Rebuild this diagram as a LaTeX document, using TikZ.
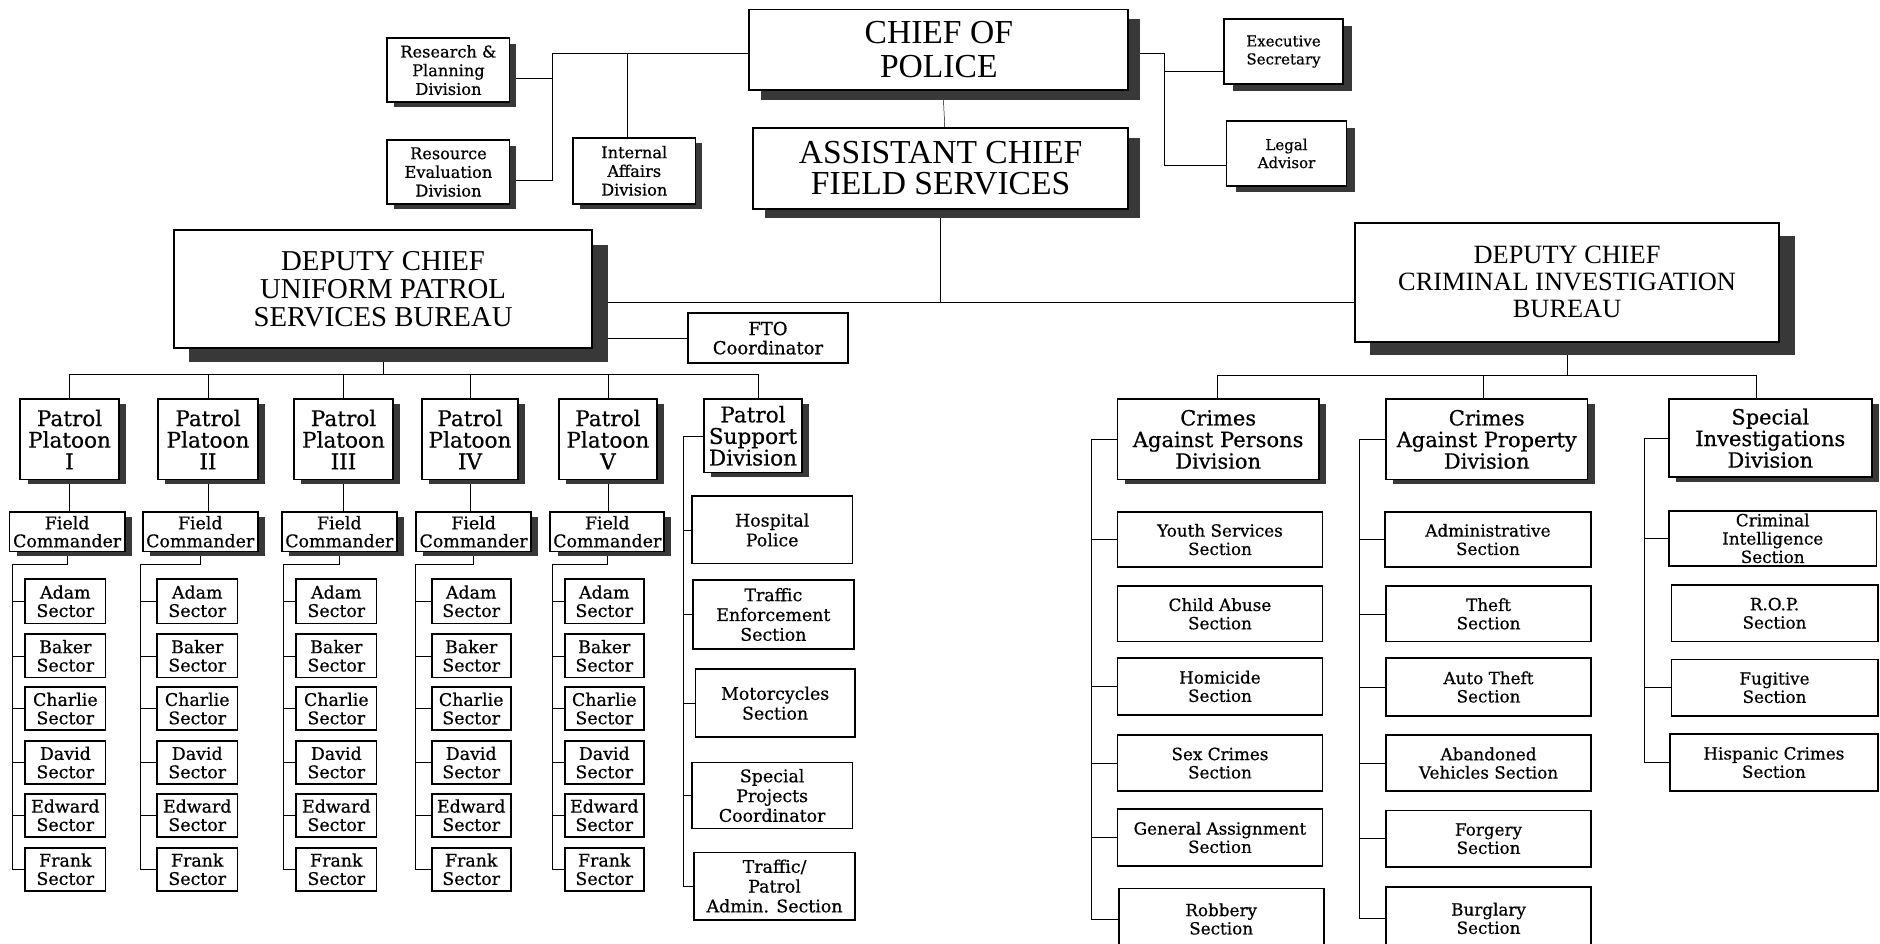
\documentclass[tikz,border=0pt]{standalone}
\usepackage{fontspec}
\setmainfont{Liberation Serif}
\newfontfamily\dvs[FakeBold=0.6]{DejaVu Serif}
\usetikzlibrary{shadows,backgrounds,calc}
\newcommand{\obox}[7]{%
  \node[bx,#6,minimum width={(#4-#2)*1pt},minimum height={(#5-#3)*1pt}] (#1) at ({(#2+#4)/2},{(#3+#5)/2}) {#7};}
\tikzset{
  bx/.style={draw,line width=1.5pt,fill=white,align=center,inner sep=0pt,outer sep=0pt},
  shd/.style 2 args={drop shadow={shadow xshift=#1pt,shadow yshift=-#2pt,fill=black!78,opacity=1}},
  conn/.style={line width=1.3pt},
  fchief/.style={font=\fontsize{28}{28}\selectfont},
  fasst/.style={font=\fontsize{28}{26}\selectfont},
  fdcu/.style={font=\fontsize{24}{23.5}\selectfont},
  fdcc/.style={font=\fontsize{22}{22.5}\selectfont},
  ftop/.style={font=\dvs\fontsize{13.5}{15.6}\selectfont},
  fexec/.style={font=\dvs\fontsize{12.5}{15}\selectfont},
  ffto/.style={font=\dvs\fontsize{15}{16}\selectfont},
  fplt/.style={font=\dvs\fontsize{18}{18}\selectfont},
  ffc/.style={font=\dvs\fontsize{14.5}{15}\selectfont},
  fsec/.style={font=\dvs\fontsize{14.5}{15.3}\selectfont},
  fsup/.style={font=\dvs\fontsize{14.5}{16.5}\selectfont},
  fdiv/.style={font=\dvs\fontsize{17.5}{18}\selectfont},
  fsect/.style={font=\dvs\fontsize{14}{15.3}\selectfont},
}
\begin{document}
\begin{tikzpicture}[x=1pt,y=-1pt]
\useasboundingbox (0,0) rectangle (1568,787);
\clip (0,0) rectangle (1568,787);
\begin{scope}[on background layer]
\fill[white] (0,0) rectangle (1568,787);
\end{scope}

% ---------- top ----------
\obox{rp}{323}{32}{425}{85}{shd={5.5}{4.5},ftop}{Research \&\\Planning\\Division}
\obox{re}{323}{117}{425}{170}{shd={5.5}{4.5},ftop}{Resource\\Evaluation\\Division}
\obox{ia}{478}{115}{580}{170}{shd={5.5}{4.5},ftop}{Internal\\Affairs\\Division}
\obox{chief}{625}{8}{941}{75}{shd={10}{8},fchief}{CHIEF OF\\POLICE}
\obox{asst}{628}{107}{941}{174}{shd={10}{8},fasst}{ASSISTANT CHIEF\\FIELD SERVICES}
\obox{exec}{1021}{16}{1120}{70}{shd={7.5}{5.5},fexec}{Executive\\Secretary}
\obox{legal}{1023}{101}{1123}{155}{shd={7.5}{5.5},fexec}{Legal\\Advisor}

% ---------- bureaus ----------
\obox{dcu}{145}{192}{494}{290}{shd={13}{12},fdcu}{DEPUTY CHIEF\\UNIFORM PATROL\\SERVICES BUREAU}
\obox{dcc}{1130}{186}{1484}{285}{shd={13}{11},fdcc}{DEPUTY CHIEF\\CRIMINAL INVESTIGATION\\BUREAU}
\obox{fto}{574}{261}{707}{303}{ffto}{FTO\\Coordinator}

% ---------- platoons ----------
\obox{p1}{17}{333}{99}{400}{shd={6}{4},fplt}{Patrol\\Platoon\\I}
\obox{p2}{132}{333}{215}{400}{shd={6}{4},fplt}{Patrol\\Platoon\\II}
\obox{p3}{245}{333}{328}{400}{shd={6}{4},fplt}{Patrol\\Platoon\\III}
\obox{p4}{352}{333}{432}{400}{shd={6}{4},fplt}{Patrol\\Platoon\\IV}
\obox{p5}{466}{333}{548}{400}{shd={6}{4},fplt}{Patrol\\Platoon\\V}
\obox{ps}{587}{333}{669}{394}{shd={6}{4},fplt}{Patrol\\Support\\Division}

\obox{fc1}{8}{427}{104}{460}{shd={6}{4},ffc}{Field\\Commander}
\obox{fc2}{119}{427}{215}{460}{shd={6}{4},ffc}{Field\\Commander}
\obox{fc3}{235}{427}{331}{460}{shd={6}{4},ffc}{Field\\Commander}
\obox{fc4}{347}{427}{443}{460}{shd={6}{4},ffc}{Field\\Commander}
\obox{fc5}{459}{427}{554}{460}{shd={6}{4},ffc}{Field\\Commander}

\foreach \c/\xa/\xb/\tx in {1/21/88/10, 2/131/198/117, 3/247/314/236, 4/360/426/346, 5/471/537/461} {
  \foreach \n/\ya/\yb/\lab in {1/483/520/Adam, 2/529/565/Baker, 3/573/609/Charlie, 4/618/654/David, 5/662/698/Edward, 6/707/743/Frank} {
    \obox{s\c\n}{\xa}{\ya}{\xb}{\yb}{fsec}{\lab\\Sector}
  }
  \coordinate (t\c) at (\tx,471);
}

% support
\obox{hp}{577}{414}{711}{470}{fsup}{Hospital\\Police}
\obox{te}{578}{484}{712}{541}{fsup}{Traffic\\Enforcement\\Section}
\obox{mc}{580}{558}{713}{615}{fsup}{Motorcycles\\Section}
\obox{sp}{577}{636}{711}{691}{fsup}{Special\\Projects\\Coordinator}
\obox{tp}{579}{711}{713}{767}{fsup}{Traffic/\\Patrol\\Admin. Section}

% ---------- investigation ----------
\obox{cap}{932}{333}{1100}{400}{shd={6}{4},fdiv}{Crimes\\Against Persons\\Division}
\obox{capr}{1156}{333}{1324}{400}{shd={6}{4},fdiv}{Crimes\\Against Property\\Division}
\obox{sid}{1392}{333}{1561}{398}{shd={6}{4},fdiv}{Special\\Investigations\\Division}

\obox{ys}{932}{427}{1103}{473}{fsect}{Youth Services\\Section}
\obox{ca}{932}{489}{1103}{535}{fsect}{Child Abuse\\Section}
\obox{ho}{932}{549}{1103}{596}{fsect}{Homicide\\Section}
\obox{sc}{932}{613}{1103}{660}{fsect}{Sex Crimes\\Section}
\obox{ga}{932}{675}{1103}{722}{fsect}{General Assignment\\Section}
\obox{ro}{933}{741}{1104}{792}{fsect}{Robbery\\Section}

\obox{ad}{1155}{427}{1327}{473}{fsect}{Administrative\\Section}
\obox{th}{1156}{489}{1327}{535}{fsect}{Theft\\Section}
\obox{at}{1156}{549}{1327}{597}{fsect}{Auto Theft\\Section}
\obox{ab}{1156}{613}{1327}{660}{fsect}{Abandoned\\Vehicles Section}
\obox{fo}{1156}{676}{1327}{723}{fsect}{Forgery\\Section}
\obox{bu}{1156}{740}{1327}{792}{fsect}{Burglary\\Section}

\obox{ci}{1392}{426}{1565}{472}{fsect}{Criminal\\Intelligence\\Section}
\obox{rop}{1394}{488}{1566}{535}{fsect}{R.O.P.\\Section}
\obox{fu}{1394}{550}{1566}{597}{fsect}{Fugitive\\Section}
\obox{hc}{1393}{612}{1566}{660}{fsect}{Hispanic Crimes\\Section}

% ---------- connectors ----------
\begin{scope}[on background layer,conn]
  % chief left side
  \coordinate (tl) at (461,44.5);
  \coordinate (rpe) at ([yshift=-6.5pt]rp.east);
  \coordinate (iat) at ([xshift=-6pt]ia.north);
  \draw ([yshift=-3pt]chief.west) -- (tl) |- ([yshift=-6.5pt]re.east);
  \draw (rpe) -- (rpe -| tl);
  \draw (iat) -- (iat |- tl);
  % chief right side
  \coordinate (tr) at (971,44);
  \coordinate (exw) at ([yshift=-16pt]exec.west);
  \draw ([yshift=-2.5pt]chief.east) -- (tr) |- ([yshift=-10pt]legal.west);
  \draw (exw) -- (exw -| tr);
  % chief - assistant
  \draw ([xshift=3.5pt]chief.south) -- ([xshift=3.5pt]asst.north);
  % assistant - deputies
  \coordinate (mid) at (0,252);
  \draw (asst.south) -- (asst.south |- mid);
  \draw (dcu.east |- mid) -- (dcc.west |- mid);
  \draw (fto.west) -- (fto.west -| dcu.east);
  % platoon bus
  \coordinate (bus) at (0,312);
  \coordinate (psn) at ([xshift=4pt]ps.north);
  \draw (p1.north |- bus) -- (psn |- bus);
  \draw (dcu.south) -- (dcu.south |- bus);
  \foreach \c in {1,...,5} {
    \draw (p\c.north) -- (p\c.north |- bus);
    \draw (p\c.south) -- (p\c.south |- fc\c.north);
    \draw (fc\c.south) |- (t\c) |- (s\c6.west);
    \foreach \n in {1,...,5} { \draw (s\c\n.west) -- (s\c\n.west -| t\c); }
  }
  \draw (psn) -- (psn |- bus);
  % support
  \coordinate (st) at (570,0);
  \draw (ps.west) -- (ps.west -| st) |- (tp.west);
  \foreach \b in {hp,te,mc,sp} { \draw (\b.west) -- (\b.west -| st); }
  % investigation bus
  \coordinate (rbus) at (0,313);
  \coordinate (capn) at ([xshift=-1pt]cap.north);
  \coordinate (caprn) at ([xshift=-3pt]capr.north);
  \coordinate (sidn) at ([xshift=-11.5pt]sid.north);
  \draw (dcc.south) -- (dcc.south |- rbus);
  \draw (capn |- rbus) -- (sidn |- rbus);
  \draw (capn) -- (capn |- rbus);
  \draw (caprn) -- (caprn |- rbus);
  \draw (sidn) -- (sidn |- rbus);
  % persons
  \coordinate (c1) at (910,0);
  \draw (cap.west) -- (cap.west -| c1) |- (ro.west);
  \foreach \b in {ys,ho,sc,ga} { \draw (\b.west) -- (\b.west -| c1); }
  % property
  \coordinate (c2) at (1134,0);
  \draw (capr.west) -- (capr.west -| c2) |- (bu.west);
  \foreach \b in {ad,th,at,ab,fo} { \draw (\b.west) -- (\b.west -| c2); }
  % special
  \coordinate (c3) at (1371,0);
  \draw (sid.west) -- (sid.west -| c3) |- (hc.west);
  \foreach \b in {ci,fu} { \draw (\b.west) -- (\b.west -| c3); }
\end{scope}
\end{tikzpicture}
\end{document}
